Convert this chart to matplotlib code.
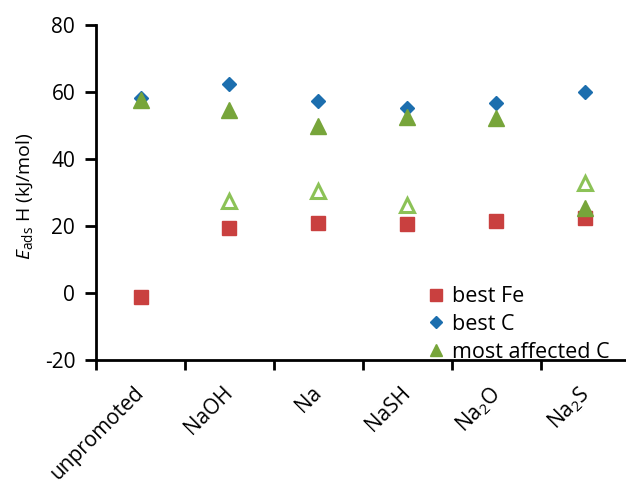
import numpy as np
import matplotlib.pyplot as plt

plt.rcParams['font.family'] = ['Open Sans', 'DejaVu Sans']
plt.rcParams['mathtext.fontset'] = 'custom'
plt.rcParams['mathtext.rm'] = 'Open Sans'
plt.rcParams['mathtext.it'] = 'Open Sans:italic'
plt.rcParams['axes.unicode_minus'] = False

categories = ['unpromoted', 'NaOH', 'Na', 'NaSH', 'Na$_2$O', 'Na$_2$S']
best_fe = [-1.2, 19.5, 20.9, 20.7, 21.4, 22.4]
best_c = [58.2, 62.5, 57.3, 55.3, 56.7, 59.9]
most_affected_c = [57.7, 54.5, 49.9, 52.5, 52.2, 25.4]
# second affected carbon (open triangles), None where absent
other_c = [None, 27.4, 30.4, 26.4, None, 32.9]

red = '#C9403F'
blue = '#1C6EAE'
green = '#77A53A'
light_green = '#8CC257'

fig = plt.figure(figsize=(6.26, 4.82), dpi=100)
ax = fig.add_axes([96 / 626, 1 - 360 / 482, 534 / 626, 335 / 482])

x = np.arange(len(categories))
ax.plot(x, best_fe, 's', color=red, markersize=9.5, label='best Fe', zorder=3)
ax.plot(x, best_c, 'D', color=blue, markersize=7.5, label='best C', zorder=3)
ax.plot(x, most_affected_c, '^', color=green, markersize=11, label='most affected C', zorder=4)

ox = [i for i, v in enumerate(other_c) if v is not None]
oy = [v for v in other_c if v is not None]
ax.plot(ox, oy, '^', markerfacecolor='white', markeredgecolor=light_green,
        markeredgewidth=2.2, markersize=10, zorder=4)

ax.set_xlim(-0.5, 5.5)
ax.set_ylim(-20, 80)
ax.set_yticks([-20, 0, 20, 40, 60, 80])
ax.set_xticks(np.arange(-0.5, 6.0, 1.0))
ax.set_xticklabels([])
ax.set_xticks(x - 0.08, minor=True)
ax.set_xticklabels(categories, minor=True, rotation=45, ha='right',
                   rotation_mode='anchor', fontsize=15)
ax.tick_params(axis='x', which='minor', length=0, pad=16)
ax.tick_params(axis='x', which='major', direction='out', length=7, width=2)
ax.tick_params(axis='y', direction='out', length=8, width=2, labelsize=15, pad=7)

for s in ['top', 'right']:
    ax.spines[s].set_visible(False)
for s in ['left', 'bottom']:
    ax.spines[s].set_linewidth(2)

ax.set_ylabel(r'$E_{\mathrm{ads}}$ H (kJ/mol)', fontsize=14)
ax.yaxis.set_label_coords(-0.115, 0.49)

ax.legend(loc='lower right', bbox_to_anchor=(0.99, -0.053), frameon=False,
          fontsize=15.5, handletextpad=-0.25, labelspacing=0.31, markerscale=0.85,
          borderaxespad=0.3)

fig.savefig('out.png', dpi=100)
